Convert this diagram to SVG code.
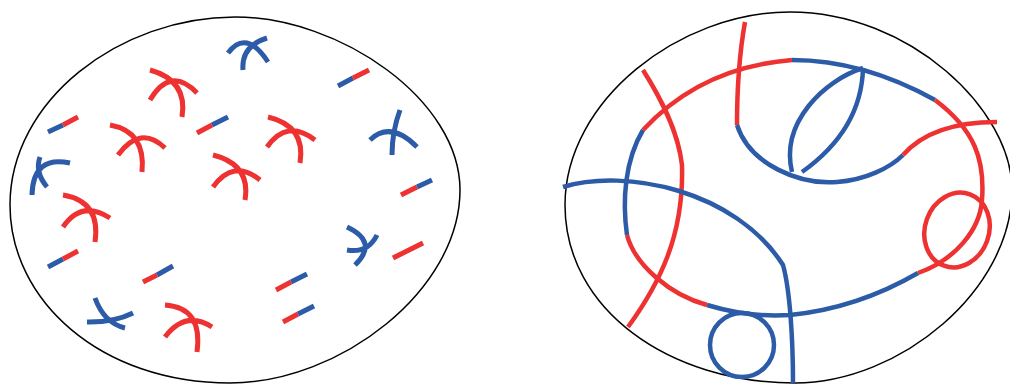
<svg xmlns="http://www.w3.org/2000/svg" width="1010" height="385" viewBox="0 0 1010 385">
<style>
.outline{fill:none;stroke:#000;stroke-width:1.5}
.r{fill:none;stroke:#ee3131;stroke-width:5}
.b{fill:none;stroke:#2c5ba8;stroke-width:5}
.r2{fill:none;stroke:#ee3131;stroke-width:4.5}
.b2{fill:none;stroke:#2c5ba8;stroke-width:4.5}
</style>
<rect width="1010" height="385" fill="#fff"/>
<g id="left-blob">
<path class="outline" d="M10,205 C10,100 120,17 235,17 C340,17 460,100 460,190 C460,290 340,383 230,383 C100,383 10,300 10,205 Z"/>
<!-- red tripods -->
<path class="r" d="M150,100 Q170.5,65.5 197,93 M150,70 Q188,80.5 182,117"/>
<path class="r" d="M118,155 Q140.5,124.5 165,148 M110,125 Q146,131.5 142,172"/>
<path class="r" d="M213,187 Q233.5,158.5 260,180 M213,155 Q251,164.5 245,200"/>
<path class="r" d="M267,147 Q287,118.5 315,140 M268,117 Q306,126 300,163"/>
<path class="r" d="M63,227 Q81.5,199.5 110,218 M63,195 Q101,201.5 95,242"/>
<path class="r" d="M165,337 Q185.5,310 212,327 M165,305 Q203,307.5 197,352"/>
<!-- blue tripods -->
<path class="b" d="M228,53 Q246,28.5 268,62 M267,38 Q241,46 243,70"/>
<path class="b" d="M370,140 Q390.5,120.5 417,147 M400,110 Q392,131.5 392,155"/>
<path class="b" d="M32,195 Q33,155 70,163 M40,157 Q34.5,172 47,187"/>
<path class="b" d="M347,227 Q379,242 355,265 M347,250 Q368,253.5 377,235"/>
<path class="b" d="M95,298 Q104,323 125,328 M87,322 Q114,322.5 133,313"/>
<!-- bicolour segments -->
<path class="b" d="M48,132 L63,125"/><path class="r" d="M63,125 L78,117"/>
<path class="r" d="M197,133 L212,125"/><path class="b" d="M212,125 L228,117"/>
<path class="b" d="M338,86 L353,78"/><path class="r" d="M353,78 L369,70"/>
<path class="r" d="M401,195 L417,187"/><path class="b" d="M417,187 L432,180"/>
<path class="b" d="M48,267 L63,259"/><path class="r" d="M63,259 L78,251"/>
<path class="r" d="M143,282 L157,275"/><path class="b" d="M157,275 L173,266"/>
<path class="r" d="M393,258 L423,243"/>
<path class="r" d="M276,290 L291,282"/><path class="b" d="M291,282 L307,274"/>
<path class="r" d="M283,322 L298,314"/><path class="b" d="M298,314 L314,306"/>
</g>
<g id="right-blob">
<path class="outline" d="M565,205 C565,100 680,12 790,12 C910,12 1012,110 1012,190 C1012,290 900,383 795,383 C670,383 565,310 565,205 Z"/>
<path class="r2" d="M643,70 C660,97 678,130 682,165 C684,235 660,283 628,327"/>
<path class="r2" d="M745,22 C740,50 737,90 737,125"/>
<path class="b2" d="M737,125 C750,165 800,185 837,182 C865,180 890,168 903,155"/>
<path class="r2" d="M903,155 C925,130 960,122 997,122"/>
<path class="r2" d="M643,130 C680,90 730,65 792,60"/>
<path class="b2" d="M792,60 C840,60 890,75 935,100"/>
<path class="r2" d="M935,100 C975,130 985,160 982,200 C980,230 955,260 918,273"/>
<path class="b2" d="M918,273 C880,295 840,310 790,315 C760,317 730,312 707,305"/>
<path class="r2" d="M707,305 C670,295 635,265 627,235"/>
<path class="b2" d="M627,235 C622,200 625,160 643,130"/>
<path class="b2" d="M563,187 C625,168 735,190 783,265 C790,290 793,340 793,383"/>
<path class="b2" d="M863,68 C825,80 780,122 792,172"/>
<path class="b2" d="M863,68 C862,110 840,145 802,172"/>
<circle class="b2" cx="742" cy="345" r="32"/>
<ellipse class="r2" cx="957" cy="230" rx="32" ry="38" transform="rotate(20 957 230)"/>
</g>
</svg>
